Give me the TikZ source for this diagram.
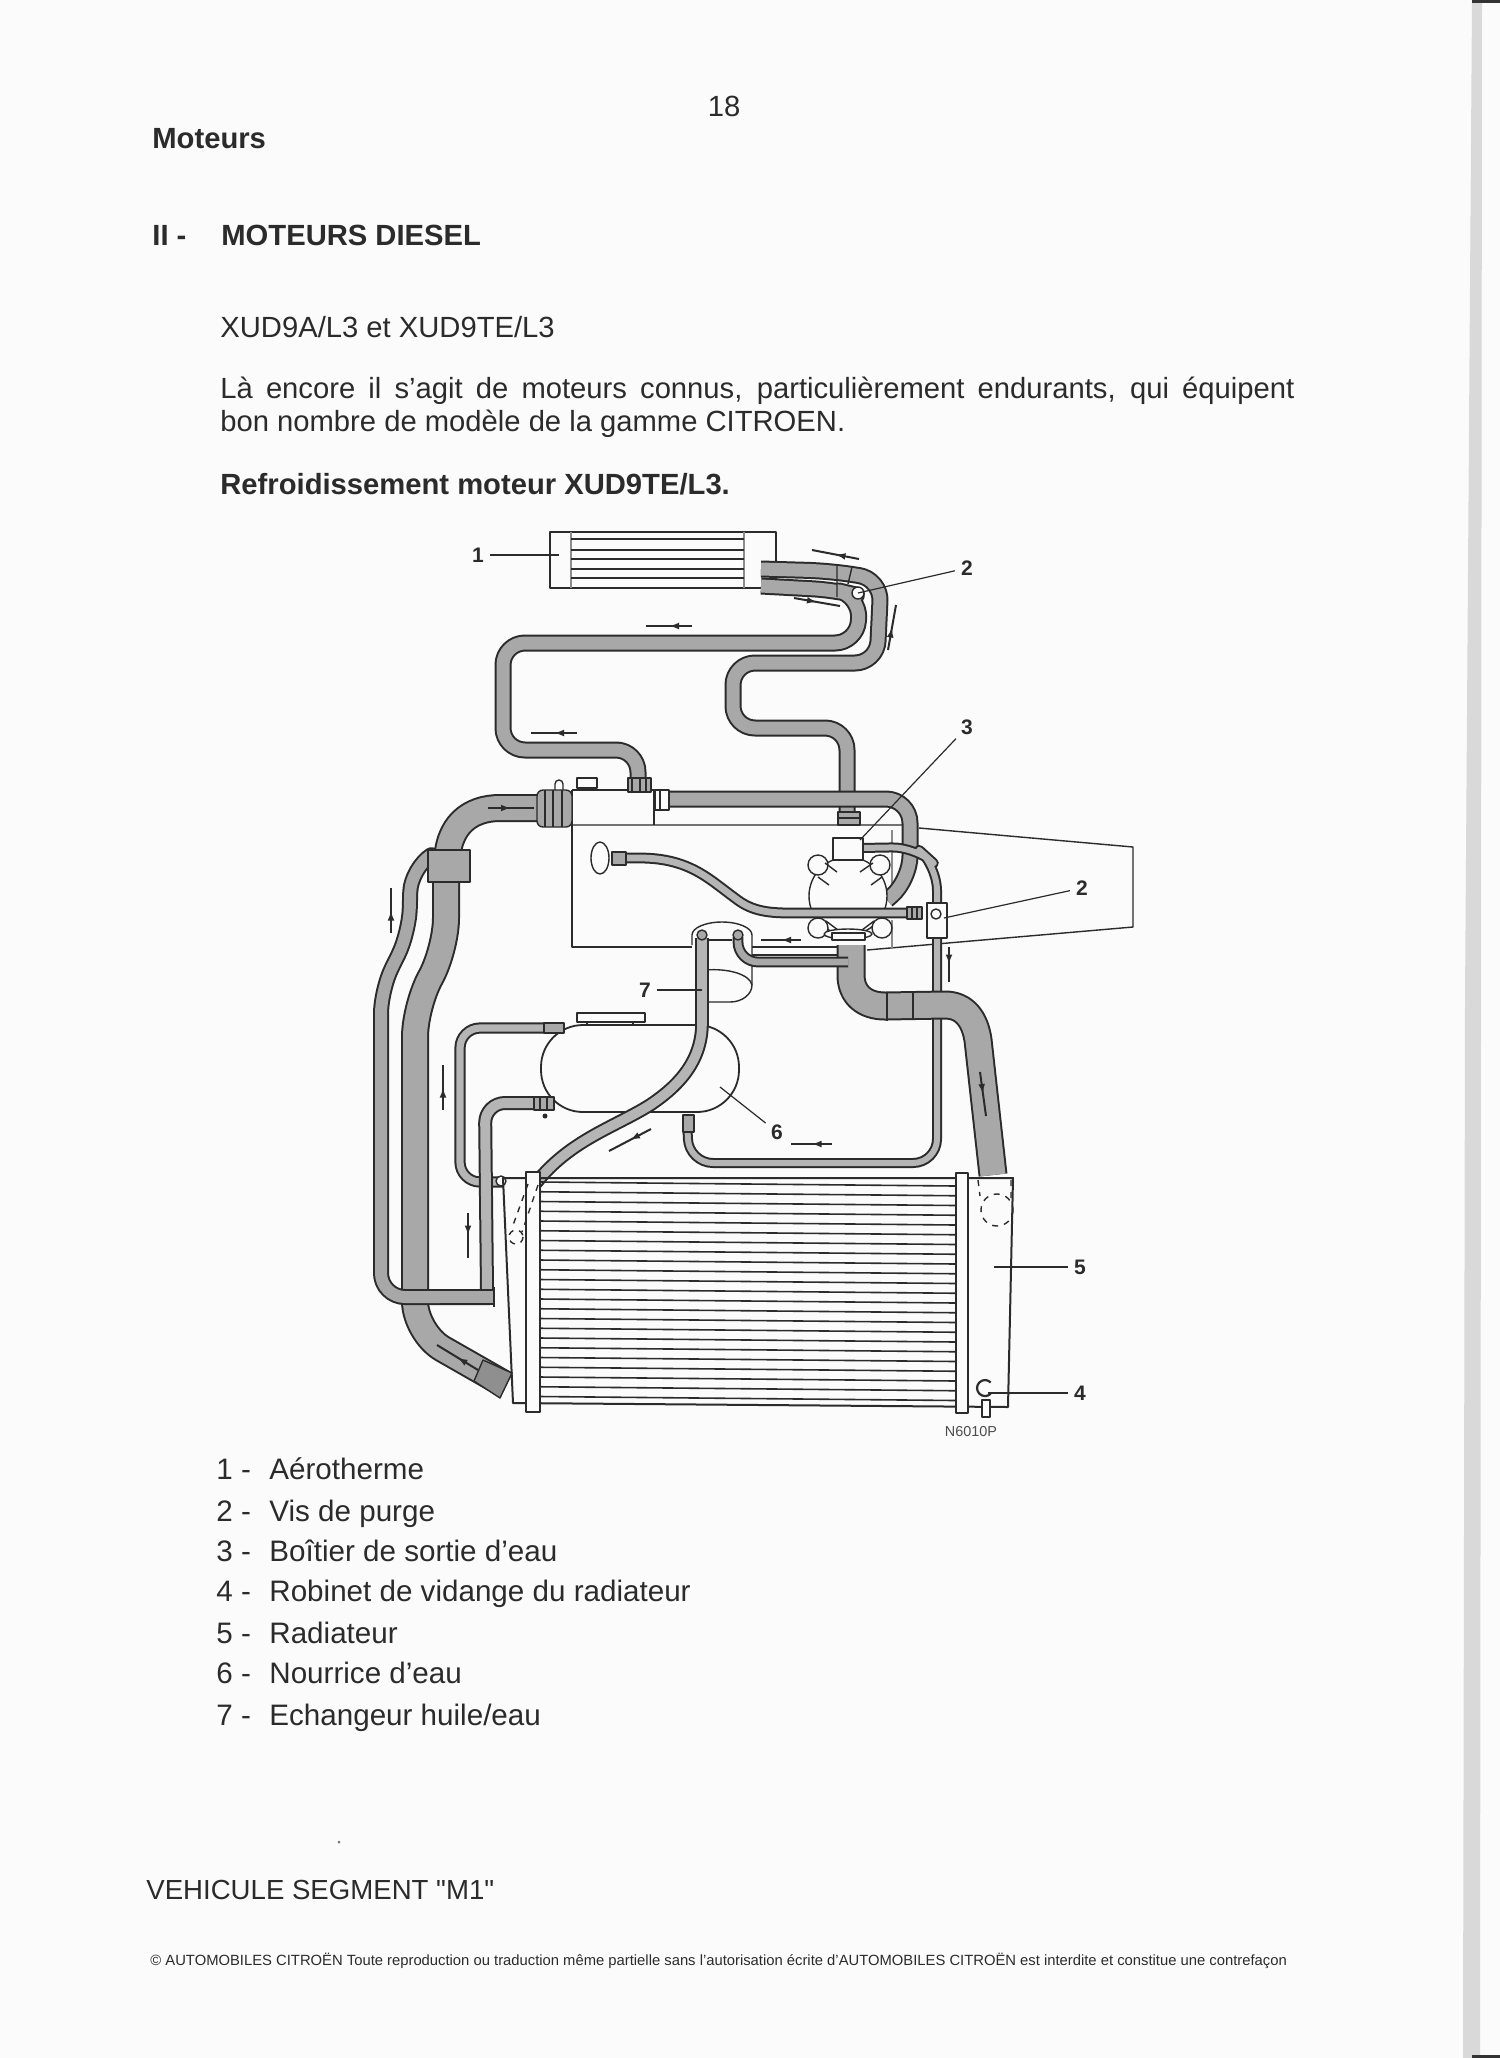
\documentclass[tikz,border=0pt]{standalone}
\usepackage{fontspec}
\setmainfont[Ligatures=TeXOff]{Liberation Sans}
\usetikzlibrary{arrows.meta,decorations.markings,positioning}
\definecolor{paper}{HTML}{FBFBFB}
\definecolor{ink}{HTML}{2B2B2B}
\definecolor{hosefill}{HTML}{A8A8A8}
\newcommand{\bodyfont}{\fontsize{14.6}{17}\selectfont}
\newcommand{\listfont}{\fontsize{14.8}{17}\selectfont}
\newcommand{\numfont}{\fontsize{10.5}{12}\selectfont\bfseries}
\begin{document}
\begin{tikzpicture}[x=.5pt,y=-.5pt,line join=round,
    txt/.style={inner sep=0pt,anchor=base west,font=\bodyfont,text=ink},
    num/.style={inner sep=1pt,font=\numfont,text=ink},
    lead/.style={line width=.6pt,draw=ink,shorten <=2pt},
    hose/.style={draw=ink,line width=1pt,double=hosefill,double distance=#1},
    thinhose/.style={draw=ink,line width=1pt,double=hosefill!85,double distance=#1},
    part/.style={draw=ink,line width=.7pt},
    collar/.style={draw=ink,line width=.7pt,fill=hosefill},
    flow/.style={draw=ink,line width=1pt,decoration={markings,mark=at position .5 with {\arrow{Latex[length=5pt,width=3.4pt]}}},postaction={decorate}}]
  \useasboundingbox (0,0) rectangle (1500,2058);
  \fill[paper] (0,0) rectangle (1500,2058);

  \fill[black!15] (1472,0) -- (1482,0) -- (1480,2058) -- (1463,2058) -- (1465,1000) -- cycle;
  \fill[black!80] (1472,0) rectangle (1500,3);
  \fill[black!80] (1472,2055) rectangle (1500,2058);
  \fill[black!55] (339,1842) circle[radius=1.5];

  \node[txt,anchor=base] (pagenum) at (724,116) {18};
  \node[txt,font=\bodyfont\bfseries] (moteurs) at (152,148) {Moteurs};
  \node[txt,font=\bodyfont\bfseries] (secnum) at (152,245) {II -};
  \node[txt,font=\bodyfont\bfseries] (sectitle) at (221,245) {MOTEURS DIESEL};
  \node[txt] (engines) at (220,337) {XUD9A/L3 et XUD9TE/L3};
  \node[txt] (introa) at (220,398) {\hbox to 537pt{Là encore il s’agit de moteurs connus, particulièrement endurants, qui équipent}};
  \node[txt] (introb) at (220,431) {bon nombre de modèle de la gamme CITROEN.};
  \node[txt,font=\bodyfont\bfseries] (cooling) at (220,494) {Refroidissement moteur XUD9TE/L3.};

  \foreach \n/\lab/\ypos in {1/Aérotherme/1479,2/Vis de purge/1521,3/Boîtier de sortie d’eau/1561,4/Robinet de vidange du radiateur/1601,5/Radiateur/1643,6/Nourrice d’eau/1683,7/{Echangeur huile/eau}/1725}{
    \node[txt,font=\listfont] (idx\n) at (216,\ypos) {\n\ -};
    \node[txt,font=\listfont] (item\n) at (269,\ypos) {\lab};
  }
  \node[txt,font=\fontsize{13.8}{17}\selectfont] (segment) at (146,1899) {VEHICULE SEGMENT "M1"};
  \node[txt,font=\fontsize{7.4}{8}\selectfont,text=ink] (notice) at (150,1965)
    {© AUTOMOBILES CITROËN Toute reproduction ou traduction même partielle sans l’autorisation écrite d’AUTOMOBILES CITROËN est interdite et constitue une contrefaçon};

  % engine outline
  \draw[part] (572,790) -- (654,790) -- (654,825);
  \draw[part] (572,790) -- (572,947) -- (692,947);
  \draw[part] (572,825) -- (916,825) (919,828) -- (1133,847) -- (1133,927) -- (867,950);
  \draw[part,draw=black!45] (892,830) -- (892,895) (892,920) -- (892,948);

  % aerotherme
  \draw[part,line width=1pt] (550,532) rectangle (776,588);
  \draw[part,draw=black!45] (571,532) -- (571,588) (744,532) -- (744,588);
  \foreach \ypos in {539,550,559,569,578}
    \draw[part] (571,\ypos) -- (744,\ypos);

  % heater hoses
  \draw[hose=6.5pt,rounded corners=11pt] (761,569) -- (830,571) -- (881,579) -- (877,663) -- (733,663) -- (733,728) -- (847,728) -- (847,815);
  \draw[hose=6.5pt,rounded corners=11pt] (761,586) -- (835,590) -- (860,596) -- (857,643) -- (503,643) -- (503,750) -- (638,750) -- (638,782);
  \draw[part] (837,564) -- (837,597) (852,567) -- (848,584);
  \draw[collar] (628,778) rectangle (651,792);
  \draw[part] (632,778) -- (632,792) (640,778) -- (640,792) (646,778) -- (646,792);
  \draw[collar] (838,812) rectangle (860,825);
  \draw[part] (838,818) -- (860,818);
  \draw[part,fill=paper] (858,593) circle[radius=6];

  \draw[part,fill=paper] (555,790) -- (555,784) arc[start angle=180,end angle=360,radius=4] -- (563,790);
  \draw[part] (577,778) rectangle (597,788);

  % engine top hoses
  \draw[hose=6.5pt,rounded corners=12pt] (660,799) -- (910,799) -- (910,880) -- (887,900);
  \draw[part,fill=paper] (655,790) rectangle (669,810);
  \draw[part] (660,790) -- (660,810);
  \draw[hose=12pt] (540,808) -- (500,808) .. controls (470,808) and (447,825) .. (447,865);
  \draw[hose=12pt,rounded corners=16pt] (446,875) -- (446,950) -- (415,1005) -- (415,1333) -- (506,1385);
  \draw[hose=6pt,rounded corners=12pt] (430,856) -- (411,868) -- (409,933) -- (381,990) -- (381,1297) -- (490,1297);
  \draw[collar] (428,850) rectangle (470,882);
  \draw[collar,rounded corners=3pt] (537,790) rectangle (572,827);
  \foreach \xpos in {545,553,562}
    \draw[part] (\xpos,790) -- (\xpos,827);
  \draw[collar,fill=hosefill!85!black] (483,1360) -- (512,1373) -- (500,1398) -- (474,1381) -- cycle;

  % thermostat
  \draw[thinhose=3pt,rounded corners=12pt] (860,848) -- (916,847) -- (937,866) -- (937,905);
  \draw[part,fill=paper] (848,896) circle[radius=39];
  \foreach \xpos/\ypos in {818/865,880/865,818/928,882/928}
    \draw[part,fill=paper] (\xpos,\ypos) circle[radius=10];
  \draw[part] (825,863) -- (837,872) (818,877) -- (829,885) (873,863) -- (860,872) (882,877) -- (871,885) (826,921) -- (838,930) (874,921) -- (862,930);
  \draw[part,fill=paper] (833,838) rectangle (863,860);
  \draw[part,fill=paper] (848,934) ellipse[x radius=24,y radius=5];
  \draw[part,fill=paper] (832,933) rectangle (865,940);

  \draw[thinhose=3.4pt] (615,858) -- (640,858) .. controls (690,858) and (710,880) .. (735,898) .. controls (750,910) and (765,913) .. (790,913) -- (921,913);
  \draw[part,fill=paper] (600,858) ellipse[x radius=9,y radius=16];
  \draw[collar] (612,852) rectangle (626,865);
  \draw[collar] (907,907) rectangle (922,919);
  \draw[part] (912,907) -- (912,919) (917,907) -- (917,919);

  % bleed block and thin return hose
  \draw[thinhose=3pt,rounded corners=12pt] (937,935) -- (937,1163) -- (689,1163) -- (687,1118);
  \draw[part,fill=paper] (927,903) rectangle (947,938);
  \draw[part,fill=paper] (936,914) circle[radius=5];
  \draw[collar] (683,1115) rectangle (694,1132);

  % big pump hose
  \draw[hose=12.5pt] (851,945) -- (851,975) .. controls (851,995) and (865,1006) .. (885,1006) -- (945,1005) .. controls (965,1005) and (975,1020) .. (978,1040) -- (993,1175);
  \draw[part] (887,992) -- (887,1021) (913,991) -- (913,1020);

  % oil exchanger
  \draw[part,fill=paper] (692,945) -- (692,935) arc[start angle=180,end angle=360,x radius=30,y radius=13] -- (752,975) -- (752,985) arc[start angle=0,end angle=90,x radius=22,y radius=17] -- (705,1002);
  \draw[part] (705,970) .. controls (730,968) and (750,975) .. (752,985);
  \draw[part] (708,940) -- (732,940);
  \draw[part] (752,947) -- (838,947);
  \draw[part,line width=1.2pt] (752,955) -- (838,955);
  \draw[hose=3.4pt,rounded corners=10pt] (738,937) -- (738,962) -- (848,962);
  \draw[collar] (738,935) circle[radius=5];

  % tank
  \draw[part,line width=.9pt,fill=paper,rounded corners=21pt] (541,1025) rectangle (739,1112);
  \draw[part,fill=paper] (577,1013) rectangle (645,1022);
  \draw[part] (587,1022) -- (587,1025) (633,1022) -- (633,1025);
  \draw[thinhose=3.6pt,rounded corners=10pt] (550,1028) -- (460,1028) -- (460,1182) -- (503,1182);
  \draw[collar] (544,1023) rectangle (564,1033);
  \draw[part,fill=paper] (501,1181) circle[radius=5];
  \draw[thinhose=5pt,rounded corners=10pt] (534,1103) -- (485,1103) -- (487,1290);
  \draw[collar] (534,1097) rectangle (554,1110);
  \draw[part] (540,1097) -- (540,1110) (547,1097) -- (547,1110);
  \fill[ink] (545,1116) circle[radius=2.5];
  \draw[hose=6pt] (440,1297) -- (494,1297);
  \draw[part,line width=1pt] (494,1287) -- (494,1307);

  % exchanger hose
  \draw[thinhose=4.8pt] (702,938) -- (702,1023) .. controls (702,1060) and (680,1085) .. (650,1105) .. controls (615,1127) and (570,1140) .. (536,1183);
  \draw[collar] (702,935) circle[radius=5];

  % radiator
  \draw[part,line width=1pt] (503,1178) -- (1013,1178) -- (1008,1407) -- (513,1403) -- cycle;
  \foreach \i in {0,...,22}
    \draw[part,line width=.8pt] (540,{1182+9.75*\i}) -- (956,{1186+9.75*\i});
  \draw[part,fill=paper] (526,1172) rectangle (540,1412);
  \draw[part,fill=paper] (956,1173) rectangle (968,1413);
  \draw[part,dashed] (997,1210) circle[radius=16];
  \draw[part,dashed] (978,1180) -- (980,1196) (1011,1180) -- (1011,1200);
  \draw[part,dashed] (538,1185) -- (522,1232) (528,1184) -- (512,1228);
  \draw[part,dashed] (516,1237) circle[radius=7];
  \draw[part,line width=1.1pt] (990.7,1393.7) arc[start angle=45,end angle=315,radius=8];
  \draw[part,fill=paper] (982,1400) rectangle (990,1417);

  % direction arrows
  \foreach \tx/\ty/\hx/\hy in {859/559/812/550,794/598/840/606,888/650/896/605,692/626/646/626,577/733/531/733,488/808/534/808,391/933/391/888,801/940/761/940,949/947/949/982,443/1110/443/1065,468/1213/468/1258,651/1129/609/1151,832/1144/791/1144,980/1072/986/1116,478/1370/437/1345}
    \draw[flow] (\tx,\ty) -- (\hx,\hy);

  % labels
  \coordinate (heater) at (559,555);
  \coordinate (bleedtop) at (858,593);
  \coordinate (housing) at (860,840);
  \coordinate (bleedlow) at (944,918);
  \coordinate (exchanger) at (702,990);
  \coordinate (tank) at (720,1087);
  \coordinate (radiator) at (994,1267);
  \coordinate (drain) at (988,1393);
  \node[num] (lab1) at (478,555) {1};
  \node[num] (lab2a) at (967,568) {2};
  \node[num] (lab3) at (967,727) {3};
  \node[num] (lab2b) at (1082,888) {2};
  \node[num] (lab7) at (645,990) {7};
  \node[num] (lab6) at (777,1132) {6};
  \node[num] (lab5) at (1080,1267) {5};
  \node[num] (lab4) at (1080,1393) {4};
  \draw[lead] (lab1) -- (heater);
  \draw[lead] (lab2a) -- (bleedtop);
  \draw[lead] (lab3) -- (housing);
  \draw[lead] (lab2b) -- (bleedlow);
  \draw[lead] (lab7) -- (exchanger);
  \draw[lead] (lab6) -- (tank);
  \draw[lead] (lab5) -- (radiator);
  \draw[lead] (lab4) -- (drain);
  \node[txt,font=\fontsize{7.2}{8}\selectfont,text=black!70,anchor=center] (ref) at (971,1432) {N6010P};
\end{tikzpicture}
\end{document}
